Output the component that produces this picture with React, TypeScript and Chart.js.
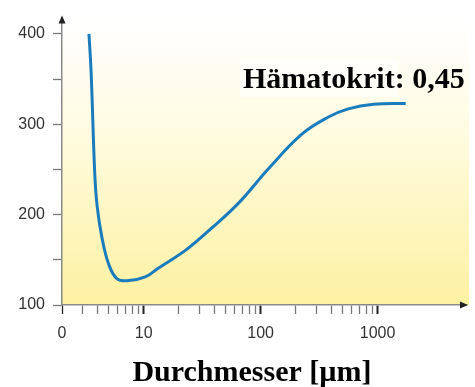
import React, { useEffect, useRef } from 'react';
import { Chart, registerables } from 'chart.js';

Chart.register(...registerables);

// Durchmesser (µm) and relative viscosity values
const DIAMETER = [3.4, 3.55, 3.81, 3.99, 4.4, 5.02, 5.92, 7.45, 10.3, 13.4, 23, 38, 65, 117, 225, 380, 562, 925, 1740];
const VISCOSITY = [400, 357, 246, 210, 174, 145, 129, 127, 131, 141, 161, 185, 213, 251, 289, 308, 317, 322, 323];

const X_TICKS = [2, 3, 4, 5, 6, 7, 8, 9, 10, 20, 30, 40, 50, 60, 70, 80, 90, 100, 200, 300, 400, 500, 600, 700, 800, 900, 1000];
const X_TICK_LABELS: Record<number, string> = { 2: '0', 10: '10', 100: '100', 1000: '1000' };
const Y_TICKS = [100, 150, 200, 250, 300, 350, 400];
const Y_TICK_LABELS = [100, 200, 300, 400];

const SERIES_LABEL = 'Hämatokrit: 0,45';
const X_TITLE = 'Durchmesser [µm]';

const decor = {
  id: 'decor',
  beforeDraw(chart: any) {
    const { ctx, chartArea } = chart;
    const { left, top, right, bottom } = chartArea;
    ctx.save();
    const g = ctx.createLinearGradient(0, top, 0, bottom);
    g.addColorStop(0, '#ffffff');
    g.addColorStop(0.08, '#fffefa');
    g.addColorStop(0.4, '#fffbe0');
    g.addColorStop(1, '#fdf1a2');
    ctx.fillStyle = g;
    ctx.fillRect(left, top, right + 3 - left, bottom - top);
    // light box behind label
    ctx.fillStyle = 'rgba(255,255,255,0.6)';
    ctx.fillRect(240, 60, 158, 37);
    ctx.restore();
  },
  afterDraw(chart: any) {
    const { ctx, chartArea } = chart;
    const { left, top, right, bottom } = chartArea;
    ctx.save();
    ctx.fillStyle = '#222';
    // y arrow
    ctx.beginPath();
    ctx.moveTo(left, top - 2);
    ctx.lineTo(left - 3.5, top + 6);
    ctx.lineTo(left + 3.5, top + 6);
    ctx.closePath();
    ctx.fill();
    // x arrow
    ctx.beginPath();
    ctx.moveTo(right + 2, bottom);
    ctx.lineTo(right - 6, bottom - 3.5);
    ctx.lineTo(right - 6, bottom + 3.5);
    ctx.closePath();
    ctx.fill();

    ctx.fillStyle = '#000';
    ctx.font = 'bold 30px "Liberation Serif", "Times New Roman", serif';
    ctx.textAlign = 'left';
    ctx.textBaseline = 'alphabetic';
    ctx.fillText(SERIES_LABEL, 243, 88);
    ctx.textAlign = 'center';
    ctx.fillText(X_TITLE, 252, 381);
    ctx.restore();
  },
};

export default function App() {
  const ref = useRef<HTMLCanvasElement | null>(null);
  useEffect(() => {
    if (!ref.current) return;
    const chart = new Chart(ref.current, {
      type: 'line',
      data: {
        datasets: [
          {
            label: SERIES_LABEL,
            data: DIAMETER.map((x, i) => ({ x, y: VISCOSITY[i] })),
            borderColor: '#1a7cbd',
            borderWidth: 3,
            pointRadius: 0,
            tension: 0.4,
            fill: false,
          },
        ],
      },
      options: {
        animation: false,
        responsive: false,
        devicePixelRatio: 1,
        layout: { padding: { top: 9, right: 9, left: 0, bottom: 0 } },
        plugins: { legend: { display: false }, tooltip: { enabled: false } },
        scales: {
          x: {
            type: 'logarithmic',
            min: 2,
            max: 5700,
            afterBuildTicks: (s: any) => {
              s.ticks = X_TICKS.map((v) => ({ value: v, major: false }));
            },
            afterFit: (s: any) => {
              s.height = 82;
            },
            ticks: {
              autoSkip: false,
              maxRotation: 0,
              minRotation: 0,
              padding: 10,
              color: '#333',
              font: { family: '"Liberation Sans", Arial, sans-serif', size: 16 },
              callback: (_v: any, i: number) => X_TICK_LABELS[X_TICKS[i]] ?? '',
            },
            grid: {
              drawOnChartArea: false,
              drawTicks: true,
              tickLength: 9,
              tickColor: (c: any) => (X_TICK_LABELS[c.tick?.value] ? '#222' : '#777'),
              tickWidth: (c: any) => (X_TICK_LABELS[c.tick?.value] && c.tick?.value !== 2 ? 2 : 1.3),
            },
            border: { color: '#8a8a8a', width: 1.5 },
          },
          y: {
            type: 'linear',
            min: 100,
            max: 418,
            afterBuildTicks: (s: any) => {
              s.ticks = Y_TICKS.map((v) => ({ value: v }));
            },
            afterFit: (s: any) => {
              s.width = 62;
            },
            ticks: {
              padding: 8,
              color: '#333',
              font: { family: '"Liberation Sans", Arial, sans-serif', size: 16 },
              callback: (v: any) => (Y_TICK_LABELS.includes(Number(v)) ? String(v) : ''),
            },
            grid: {
              drawOnChartArea: false,
              drawTicks: true,
              tickLength: 9,
              tickColor: '#777',
              tickWidth: 1.3,
            },
            border: { color: '#8a8a8a', width: 1.5 },
          },
        },
      },
      plugins: [decor],
    } as any);
    return () => chart.destroy();
  }, []);
  return (
    <div style={{ position: 'fixed', left: 0, top: 0, width: 475, height: 387, background: '#fff' }}>
      <canvas ref={ref} width={475} height={387} style={{ display: 'block' }} />
    </div>
  );
}
